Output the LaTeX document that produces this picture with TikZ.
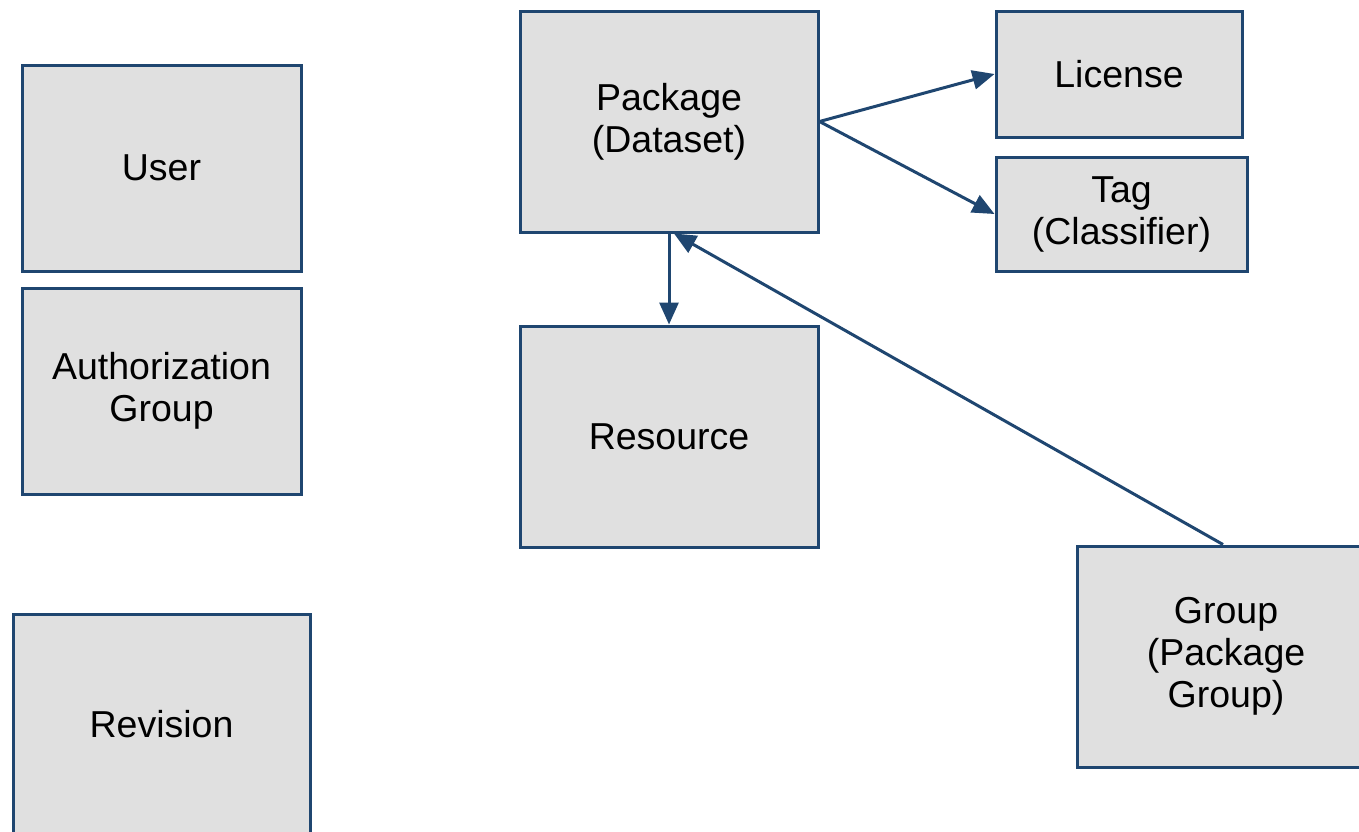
\documentclass[tikz,border=0pt]{standalone}
\usepackage{fontspec}
\setmainfont{Liberation Sans}
\usetikzlibrary{arrows.meta}
\definecolor{edgeblue}{HTML}{1F4670}
\definecolor{boxfill}{HTML}{E0E0E0}
\tikzset{
  entity/.style={draw=edgeblue, fill=boxfill, line width=3pt, rectangle,
    inner sep=0pt, align=center, font=\fontsize{37.5}{42}\selectfont},
  link/.style={draw=edgeblue, line width=3pt,
    -{Triangle[length=22pt,width=19pt]}}
}
\begin{document}
\begin{tikzpicture}[x=1pt,y=-1pt]
\useasboundingbox (0,0) rectangle (1359,831);
\clip (0,0) rectangle (1359,831);
\node[entity, minimum width=279pt, minimum height=206pt] (user) at (161.5,168) {User};
\node[entity, minimum width=279pt, minimum height=206pt] (auth) at (161.5,391) {Authorization\\Group};
\node[entity, minimum width=297pt, minimum height=220pt] (rev) at (161.5,724) {Revision};
\node[entity, minimum width=298pt, minimum height=221pt] (pkg) at (669,121.5) {Package\\(Dataset)};
\node[entity, minimum width=298pt, minimum height=221pt] (res) at (669,436.5) {Resource};
\node[entity, minimum width=246pt, minimum height=126pt] (lic) at (1119,74) {License};
\node[entity, minimum width=251pt, minimum height=114pt] (tag) at (1121.5,214) {Tag\\(Classifier)};
\node[entity, minimum width=298pt, minimum height=221pt] (grp) at (1226,656.5) {Group\\(Package\\Group)};
\coordinate (pkgin) at ([xshift=5pt]pkg.south);
\draw[link] (pkg.east) -- (lic.west);
\draw[link] (pkg.east) -- (tag.west);
\draw[link] (pkg.south) -- (res.north);
\draw[link] ([xshift=-3pt]grp.north) -- (pkgin);
\end{tikzpicture}
\end{document}
